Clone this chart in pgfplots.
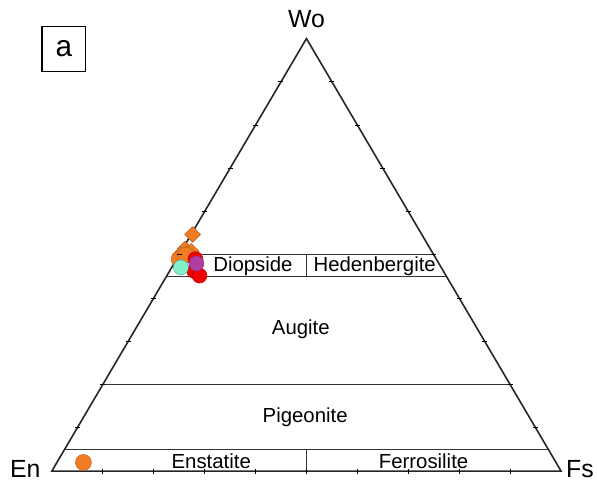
\documentclass[border=0pt]{standalone}
\usepackage{pgfplots}
\pgfplotsset{compat=1.18}
\usepackage{pgfplotstable}
\usepackage{fontspec}
\setmainfont{Liberation Sans}
\usetikzlibrary{calc}

\definecolor{pxorange}{RGB}{242,124,36}
\definecolor{pxgold}{RGB}{214,162,30}
\definecolor{pxmint}{RGB}{130,240,200}
\definecolor{pxpurple}{RGB}{176,62,160}
\definecolor{pxred}{RGB}{240,0,0}

% Wo-En-Fs (mol%) to the plane of the triangle
\pgfplotsset{
  /pgfplots/table/ternary/.style={
    /pgfplots/table/x expr=(\thisrow{Fs}+0.5*\thisrow{Wo})/100,
    /pgfplots/table/y expr=\thisrow{Wo}/100},
}

% Pyroxene analyses, mol% Wo-En-Fs
\pgfplotstableread{
Wo   En   Fs
54.7 45.0 0.3
51.3 48.2 0.5
50.6 48.0 1.4
50.1 49.7 0.2
49.4 49.3 1.3
50.8 47.2 2.0
}\diamonds
\pgfplotstableread{
Wo   En   Fs
49.6 49.2 1.2
50.2 48.3 1.5
}\gold
\pgfplotstableread{
Wo   En   Fs
49.0 50.5 0.5
49.9 48.8 1.3
2.0  92.8 5.2
}\orangedots
\pgfplotstableread{
Wo   En   Fs
49.0 47.3 3.7
46.3 48.9 4.8
45.2 48.4 6.4
}\reddots
\pgfplotstableread{
Wo   En   Fs
48.0 47.6 4.4
}\purpledots
\pgfplotstableread{
Wo   En   Fs
47.1 51.1 1.8
}\mintdots

\begin{document}
\begin{tikzpicture}[
  field/.style={font=\fontsize{20.5}{24}\selectfont},
  corner/.style={font=\fontsize{25}{28}\selectfont},
]
\begin{axis}[
  width=597bp, height=484bp, scale only axis,
  xmin=-0.1018, xmax=1.0665, ymin=-0.026, ymax=1.0892,
  hide axis, clip=false,
  every axis plot/.append style={only marks, line width=0.5bp},
]
\path (rel axis cs:0,0) (rel axis cs:1,1);
\coordinate (En) at (axis cs:0,0);
\coordinate (Fs) at (axis cs:1,0);
\coordinate (Wo) at (axis cs:0.5,1);

% outline of the triangle and the composition fields
\draw[line width=1.6bp, black!85] (axis cs:0,0) -- (axis cs:1,0) -- (axis cs:0.5,1) -- cycle;
\draw[line width=1.3bp, black!80] (axis cs:0.25,0.5) -- (axis cs:0.75,0.5);
\draw[line width=1.3bp, black!80] (axis cs:0.225,0.45) -- (axis cs:0.775,0.45);
\draw[line width=1.3bp, black!80] (axis cs:0.5,0.45) -- (axis cs:0.5,0.5);
\draw[line width=1.3bp, black!80] (axis cs:0.1,0.2) -- (axis cs:0.9,0.2);
\draw[line width=1.3bp, black!80] (axis cs:0.025,0.05) -- (axis cs:0.975,0.05);
\draw[line width=1.3bp, black!80] (axis cs:0.5,0) -- (axis cs:0.5,0.05);

% field names
\node[field] at (axis cs:0.395,0.473) {Diopside};
\node[field] at (axis cs:0.634,0.473) {Hedenbergite};
\node[field] at (axis cs:0.489,0.327) {Augite};
\node[field] at (axis cs:0.4975,0.124) {Pigeonite};
\node[field] at (axis cs:0.313,0.022) {Enstatite};
\node[field] at (axis cs:0.730,0.022) {Ferrosilite};

% end-member labels
\node[corner] at (axis cs:0.5,1.045) {Wo};
\node[corner] at (axis cs:-0.052,0.004) {En};
\node[corner] at (axis cs:1.037,0.004) {Fs};

% panel label
\node[draw, line width=1.4bp, minimum width=44bp, minimum height=45bp,
      font=\fontsize{30}{32}\selectfont, inner sep=0pt]
  at (axis cs:0.0235,0.9762) {a};

\addplot[mark=square*, mark size=5.6bp, mark options={rotate=45},
         draw=pxorange!75!black, fill=pxorange] table[ternary] {\diamonds};
\addplot[mark=*, mark size=7bp, draw=pxgold!75!black, fill=pxgold] table[ternary] {\gold};
\addplot[mark=*, mark size=8bp, draw=pxorange!80!black, fill=pxorange] table[ternary] {\orangedots};
\addplot[mark=*, mark size=7.5bp, draw=pxred!80!black, fill=pxred] table[ternary] {\reddots};
\addplot[mark=*, mark size=7.5bp, draw=pxpurple!80!black, fill=pxpurple] table[ternary] {\purpledots};
\addplot[mark=*, mark size=7.5bp, draw=pxmint!70!black, fill=pxmint] table[ternary] {\mintdots};
\end{axis}

% 10 % tick marks along the three sides
\foreach \t in {0.1,0.2,0.3,0.4,0.5,0.6,0.7,0.8,0.9}{
  \draw[line width=1bp] ($(En)!\t!(Fs)$) ++(0,-2.5bp) -- ++(0,5bp);
  \draw[line width=1bp] ($(En)!\t!(Wo)$) ++(-2.5bp,0) -- ++(5bp,0);
  \draw[line width=1bp] ($(Fs)!\t!(Wo)$) ++(-2.5bp,0) -- ++(5bp,0);
}
\end{tikzpicture}
\end{document}
